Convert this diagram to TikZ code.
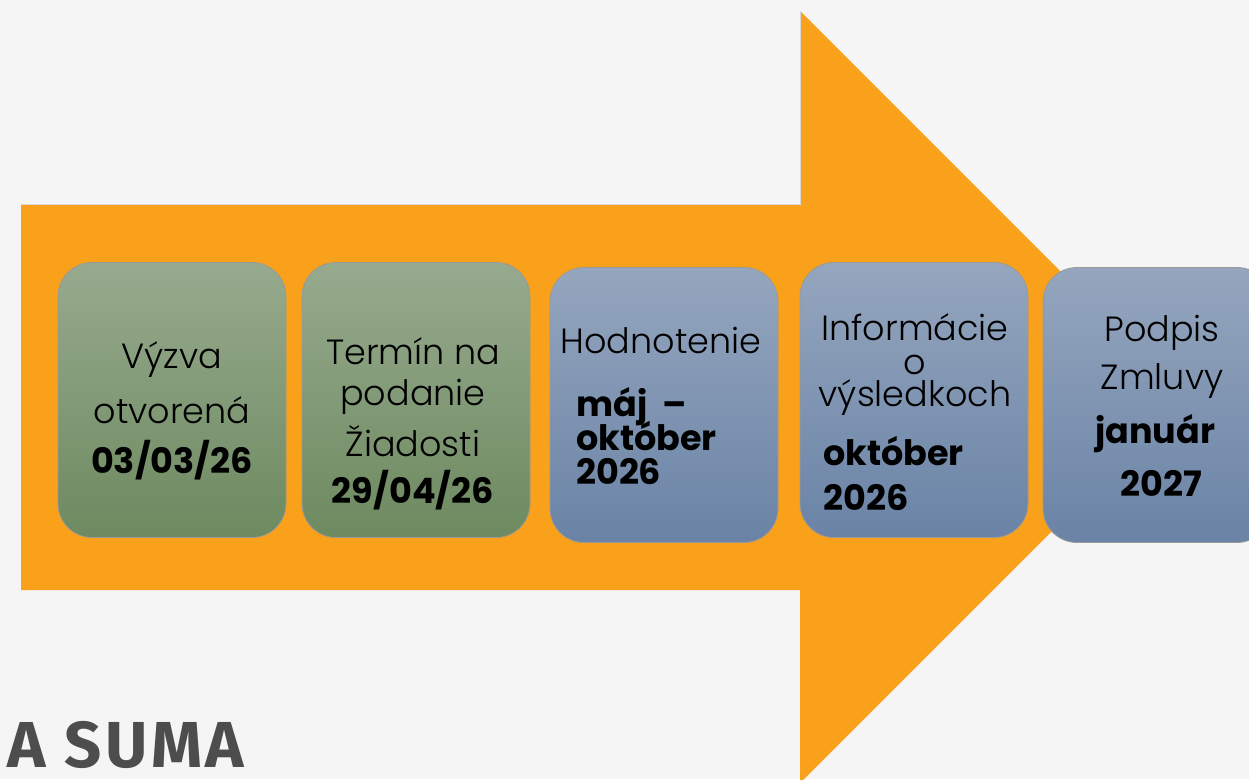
\documentclass[tikz,border=0pt]{standalone}
\usepackage{fontspec}
\setmainfont{Poppins}[UprightFont=* Light, BoldFont=* Bold]
\newfontfamily\titlefont{Fira Sans}[LetterSpace=5.5]
\definecolor{bg}{HTML}{F5F5F5}
\definecolor{arroworange}{HTML}{F9A11A}
\definecolor{greentop}{HTML}{97AA8E}
\definecolor{greenbot}{HTML}{6D8A60}
\definecolor{bluetop}{HTML}{95A6BE}
\definecolor{bluebot}{HTML}{6A83A6}
\definecolor{titlegray}{HTML}{4D4D4D}
\tikzset{
  box/.style={draw=black!40, line width=0.8pt, rounded corners=34pt, minimum width=228pt, minimum height=275pt, inner sep=0pt},
  greenbox/.style={box, top color=greentop, bottom color=greenbot},
  bluebox/.style={box, top color=bluetop, bottom color=bluebot},
  lt/.style={font=\fontsize{35}{40}\selectfont, text=black, inner sep=0pt},
  bd/.style={font=\fontsize{35}{40}\selectfont\bfseries, text=black, inner sep=0pt},
  tight/.style={text height=23pt, text depth=4pt},
}
\begin{document}
\begin{tikzpicture}[x=1pt,y=-1pt]
\useasboundingbox (0,0) rectangle (1249,779);
\clip (0,0) rectangle (1249,779);
\fill[bg] (0,0) rectangle (1249,779);
\fill[arroworange] (21,204) -- (800,204) -- (800,11) -- (1186,397) -- (800,783) -- (800,590) -- (21,590) -- cycle;
\draw[black!15, line width=0.6pt] (21,204) -- (800,204) -- (800,11);
% boxes
\node[greenbox] (b1) at (172,400) {};
\node[greenbox] (b2) at (416,400) {};
\node[bluebox] (b3) at (664,405) {};
\node[bluebox] (b4) at (914,400) {};
\node[bluebox] (b5) at (1157,405) {};
% box 1
\node[lt] (t11) at (172,360) {Výzva};
\node[lt] (t12) at (172,410) {otvorená};
\node[bd] (t13) at (172,460) {03/03/26};
% box 2
\node[lt] (t21) at (413,351) {Termín na};
\node[lt] (t22) at (413,397) {podanie};
\node[lt] (t23) at (413,441) {Žiadosti};
\node[bd] (t24) at (413,490) {29/04/26};
% box 3
\node[lt] (t31) at (661,340) {Hodnotenie};
\node[bd, tight, anchor=west] (t32) at (576,407) {máj\ \ –};
\node[bd, tight, anchor=west] (t33) at (576,441) {október};
\node[bd, tight, anchor=west] (t34) at (576,475) {2026};
% box 4
\node[lt] (t41) at (915,327) {Informácie};
\node[lt] (t42) at (915,365) {o};
\node[lt] (t43) at (915,398) {výsledkoch};
\node[bd, anchor=west] (t44) at (823,451) {október};
\node[bd, anchor=west] (t45) at (823,498) {2026};
% box 5
\node[lt] (t51) at (1162,333) {Podpis};
\node[lt] (t52) at (1162,381) {Zmluvy};
\node[bd, anchor=west] (t53) at (1095,434) {január};
\node[bd] (t54) at (1161,483) {2027};
% title
\node[anchor=base west, inner sep=0pt, text=titlegray, font=\titlefont\fontsize{65}{70}\selectfont\bfseries] (title) at (7,767) {A SUMA};
\end{tikzpicture}
\end{document}
